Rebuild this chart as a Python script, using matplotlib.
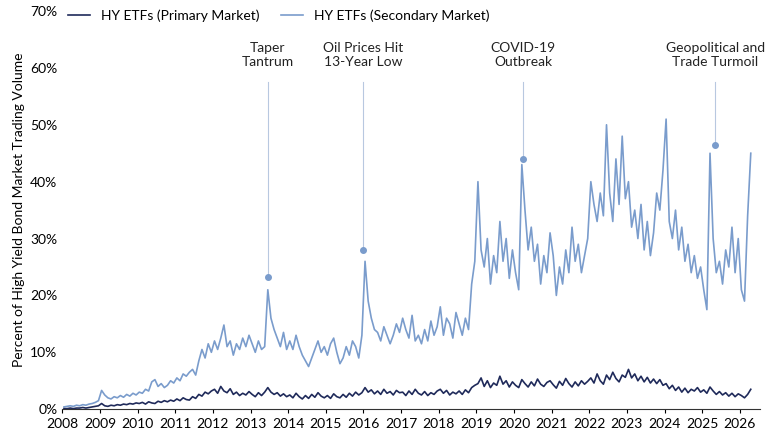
import matplotlib
matplotlib.use("Agg")
import matplotlib.pyplot as plt
import numpy as np

plt.rcParams['font.family'] = ['Lato', 'DejaVu Sans']

secondary = {
2008: [0.4,0.5,0.6,0.5,0.7,0.6,0.8,0.7,0.9,1.0,1.2,1.5],
2009: [3.3,2.5,2.0,1.8,2.2,2.0,2.4,2.1,2.6,2.3,2.8,2.5],
2010: [3.0,2.8,3.5,3.2,4.8,5.2,4.0,4.5,3.8,4.2,5.0,4.6],
2011: [5.5,5.0,6.2,5.8,6.5,7.0,6.0,8.5,10.5,9.0,11.5,10.0],
2012: [12.0,10.5,12.5,14.8,11.0,12.0,9.5,11.5,10.5,12.5,11.0,13.0],
2013: [11.5,10.0,12.0,10.5,11.0,21.0,16.0,14.0,12.5,11.0,13.5,10.5],
2014: [12.0,10.5,13.0,11.0,9.5,8.5,7.5,9.0,10.5,12.0,10.0,11.0],
2015: [9.5,11.5,12.5,10.0,8.0,9.0,11.0,9.5,12.0,11.0,9.0,13.0],
2016: [26.0,19.0,16.0,14.0,13.5,12.0,14.5,13.0,11.5,13.0,15.0,13.5],
2017: [16.0,14.0,12.5,16.5,12.0,13.0,11.5,14.0,12.0,15.5,13.0,14.5],
2018: [18.0,13.0,16.0,15.0,12.5,17.0,15.0,13.0,16.0,14.0,22.0,26.0],
2019: [40.0,28.0,25.0,30.0,22.0,27.0,24.0,33.0,26.0,30.0,23.0,28.0],
2020: [24.0,21.0,43.0,35.0,28.0,32.0,26.0,29.0,22.0,27.0,24.0,31.0],
2021: [27.0,20.0,25.0,22.0,28.0,24.0,32.0,26.0,29.0,24.0,27.0,30.0],
2022: [40.0,36.0,33.0,38.0,34.0,50.0,38.0,33.0,44.0,36.0,48.0,37.0],
2023: [40.0,32.0,35.0,30.0,36.0,28.0,33.0,27.0,31.0,38.0,35.0,42.0],
2024: [51.0,33.0,30.0,35.0,28.0,32.0,26.0,29.0,24.0,27.0,23.0,25.0],
2025: [21.0,17.5,45.0,30.0,24.0,26.0,22.0,28.0,25.0,32.0,24.0,30.0],
2026: [21.0,19.0,34.0,45.0],
}
primary = {
2008: [0.1,0.1,0.2,0.1,0.2,0.2,0.3,0.2,0.3,0.4,0.5,0.6],
2009: [1.0,0.6,0.5,0.7,0.6,0.8,0.7,0.9,0.8,1.0,0.9,1.1],
2010: [1.0,1.2,0.9,1.3,1.1,1.0,1.4,1.2,1.5,1.3,1.6,1.4],
2011: [1.8,1.5,2.0,1.7,1.6,2.2,1.9,2.6,2.3,3.0,2.7,3.2],
2012: [3.5,2.8,4.0,3.2,2.9,3.6,2.6,3.0,2.4,2.8,2.5,3.1],
2013: [2.6,2.2,2.9,2.4,3.0,3.8,3.0,2.6,2.9,2.3,2.7,2.2],
2014: [2.5,2.0,2.8,2.2,1.8,2.4,1.9,2.6,2.1,2.9,2.3,2.0],
2015: [2.4,1.9,2.7,2.2,2.0,2.6,2.1,2.8,2.3,3.0,2.5,2.9],
2016: [3.8,3.0,3.4,2.7,3.2,2.6,3.5,2.8,3.1,2.5,3.3,2.9],
2017: [3.0,2.4,3.2,2.6,3.5,2.8,2.5,3.1,2.4,2.9,2.6,3.2],
2018: [3.5,2.8,3.3,2.5,3.0,2.7,3.2,2.6,3.4,2.9,3.8,4.2],
2019: [4.5,5.5,4.0,5.0,3.8,4.6,4.2,5.8,4.4,5.0,3.9,4.8],
2020: [4.2,3.8,5.2,4.5,3.9,4.8,4.1,5.3,4.4,4.0,4.7,5.0],
2021: [4.3,3.7,4.9,4.2,5.4,4.5,3.9,4.8,4.1,5.0,4.4,4.9],
2022: [5.5,4.6,6.2,5.0,4.4,6.0,5.2,6.5,5.4,4.8,6.0,5.6],
2023: [7.0,5.5,6.2,5.0,5.8,4.8,5.6,4.6,5.3,4.5,5.2,4.2],
2024: [4.5,3.6,4.2,3.3,3.9,3.0,3.7,2.9,3.5,3.2,3.8,3.0],
2025: [3.4,2.8,3.9,3.2,2.6,3.1,2.5,2.9,2.3,2.8,2.2,2.7],
2026: [2.4,2.0,2.6,3.5],
}

def flatten(d):
    xs, ys = [], []
    for yr, vals in d.items():
        for m, v in enumerate(vals):
            xs.append(yr + (m + 0.5) / 12)
            ys.append(v)
    return np.array(xs), np.array(ys)

events = ["Taper\nTantrum", "Oil Prices Hit\n13-Year Low", "COVID-19\nOutbreak", "Geopolitical and\nTrade Turmoil"]
event_x = [2013.46, 2016.0, 2020.25, 2025.35]
event_y = [23.3, 28.0, 44.0, 46.5]

navy = "#1f2a5a"
light = "#7a9ccc"

fig, ax = plt.subplots(figsize=(7.8, 4.4), dpi=100)
fig.subplots_adjust(left=0.08, right=0.975, top=0.975, bottom=0.07)
sx, sy = flatten(secondary)
px, py = flatten(primary)
ax.plot(sx, sy, color=light, lw=1.2, label="HY ETFs (Secondary Market)", zorder=2)
ax.plot(px, py, color=navy, lw=1.2, label="HY ETFs (Primary Market)", zorder=3)
handles, labels = ax.get_legend_handles_labels()
ax.legend(handles[::-1], labels[::-1], loc="upper left", ncol=2, frameon=False,
          bbox_to_anchor=(-0.01, 1.035), fontsize=10, handlelength=1.6, columnspacing=1.5)

for t, x, y in zip(events, event_x, event_y):
    ax.text(x, 64.5, t, ha="center", va="top", fontsize=10, color="#222222")
    ax.plot([x, x], [y, 57.5], color="#b8c8e0", lw=0.8, zorder=1)
    ax.plot(x, y, "o", color=light, ms=4, zorder=4)

ax.set_xlim(2008, 2026.55)
ax.set_ylim(0, 70)
ax.set_xticks(range(2008, 2027))
ax.set_yticks(range(0, 71, 10))
ax.set_yticklabels([f"{v}%" for v in range(0, 71, 10)])
ax.tick_params(axis="both", labelsize=10, length=0)
ax.tick_params(axis="x", length=3)
for s in ["top", "right", "left"]:
    ax.spines[s].set_visible(False)
ax.spines["bottom"].set_color("#333333")
ax.set_ylabel("Percent of High Yield Bond Market Trading Volume", fontsize=10)
fig.savefig("out.png")
